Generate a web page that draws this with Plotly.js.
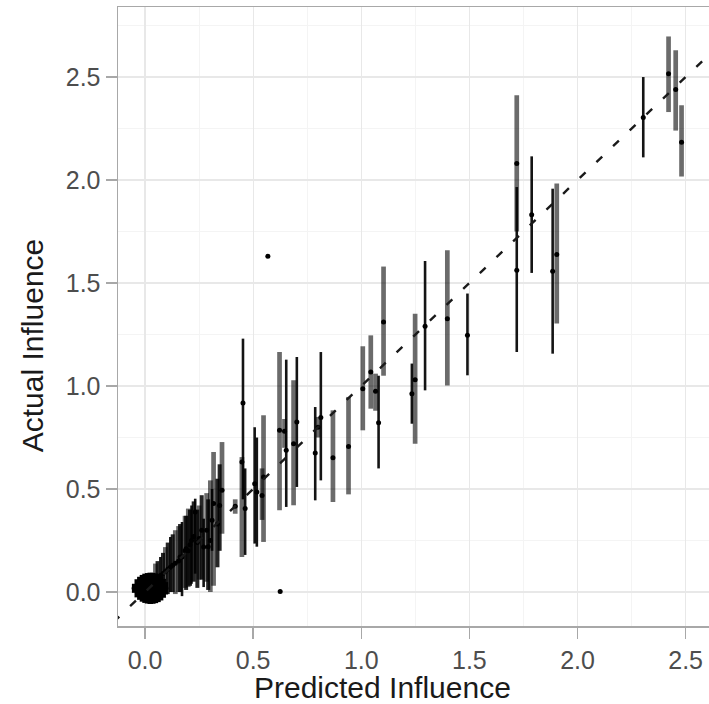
<!DOCTYPE html>
<html>
<head>
<meta charset="utf-8">
<script src="https://cdn.plot.ly/plotly-3.0.1.min.js"></script>
<style>html,body{margin:0;padding:0;background:#fff;}#chart{width:709px;height:704px;}</style>
</head>
<body>
<div id="chart"></div>
<script>
// Wide (grey, semi-transparent) error bars
const wideX  = [2.421, 2.454, 2.481, 1.719, 1.904, 1.398, 1.249, 1.103, 1.044, 1.066, 1.007, 0.941, 0.869, 0.800, 0.687, 0.622, 0.645, 0.548, 0.541, 0.448, 0.417, 0.356, 0.317, 0.302, 0.200, 0.140, 0.094, 0.048, 0.250, 0.285, 0.185, 0.155];
const wideY  = [2.516, 2.440, 2.184, 2.080, 1.639, 1.327, 1.031, 1.311, 1.068, 0.975, 0.987, 0.707, 0.652, 0.800, 0.720, 0.785, 0.780, 0.558, 0.469, 0.631, 0.416, 0.494, 0.430, 0.250, 0.200, 0.140, 0.100, 0.060, 0.260, 0.300, 0.200, 0.150];
const wideHi = [2.697, 2.630, 2.363, 2.411, 1.983, 1.659, 1.351, 1.580, 1.246, 1.060, 1.193, 0.947, 0.882, 0.850, 1.028, 1.165, 0.840, 0.858, 0.600, 0.655, 0.450, 0.728, 0.680, 0.542, 0.405, 0.300, 0.218, 0.138, 0.420, 0.480, 0.370, 0.320];
const wideLo = [2.330, 2.240, 2.017, 1.750, 1.303, 1.003, 0.720, 1.050, 0.890, 0.880, 0.785, 0.474, 0.437, 0.750, 0.421, 0.397, 0.700, 0.243, 0.350, 0.170, 0.380, 0.283, 0.030, 0.000, 0.024, -0.010, -0.010, -0.030, 0.060, 0.050, 0.020, 0.000];

// Thin (black) error bars
const thinX  = [2.304, 1.719, 1.788, 1.885, 1.491, 1.295, 1.234, 1.080, 0.813, 0.787, 0.702, 0.653, 0.507, 0.517, 0.453, 0.463, 0.310, 0.271, 0.232, 0.171, 0.117, 0.071, 0.215];
const thinY  = [2.303, 1.562, 1.832, 1.557, 1.246, 1.290, 0.963, 0.822, 0.847, 0.675, 0.825, 0.688, 0.526, 0.485, 0.917, 0.405, 0.348, 0.218, 0.388, 0.170, 0.120, 0.080, 0.250];
const thinHi = [2.500, 1.966, 2.115, 1.958, 1.449, 1.607, 1.109, 1.050, 1.165, 0.898, 1.141, 1.128, 0.800, 0.750, 1.230, 0.600, 0.500, 0.356, 0.453, 0.340, 0.267, 0.170, 0.420];
const thinLo = [2.110, 1.165, 1.549, 1.157, 1.052, 0.979, 0.817, 0.600, 0.542, 0.445, 0.510, 0.413, 0.235, 0.220, 0.450, 0.180, 0.200, 0.024, 0.089, -0.020, 0.000, -0.020, 0.040];

// Dense band of small cases (overlapping dark bars)
const bandX  = [0.058, 0.083, 0.105, 0.128, 0.162, 0.190, 0.208, 0.225, 0.242, 0.262, 0.292, 0.335, 0.345];
const bandY  = [0.070, 0.090, 0.110, 0.130, 0.170, 0.210, 0.230, 0.270, 0.240, 0.300, 0.220, 0.330, 0.420];
const bandHi = [0.150, 0.190, 0.240, 0.280, 0.330, 0.370, 0.400, 0.440, 0.400, 0.470, 0.450, 0.550, 0.620];
const bandLo = [-0.020, -0.020, -0.010, 0.000, 0.000, 0.010, 0.030, 0.050, 0.020, 0.060, 0.010, 0.120, 0.200];

// Dense cluster of near-zero cases
const clusX  = [-0.048, -0.036, -0.024, -0.012, 0.000, 0.012, 0.024, 0.036, 0.048, 0.060, 0.072, 0.084, 0.094];
const clusY  = [0.018, 0.018, 0.018, 0.018, 0.018, 0.018, 0.018, 0.018, 0.018, 0.018, 0.018, 0.018, 0.018];
const clusHi = [0.040, 0.062, 0.074, 0.083, 0.089, 0.092, 0.094, 0.093, 0.090, 0.085, 0.077, 0.064, 0.048];
const clusLo = [-0.004, -0.026, -0.038, -0.047, -0.053, -0.056, -0.058, -0.057, -0.054, -0.049, -0.041, -0.028, -0.012];

// Cases without an interval
const loneX = [0.568, 0.625];
const loneY = [1.630, 0.003];

// Reference line y = x
const diagX = [-0.3, 2.9];

const xTicks = [0, 0.5, 1, 1.5, 2, 2.5];
const xTickText = ['0.0', '0.5', '1.0', '1.5', '2.0', '2.5'];
const yTicks = [0, 0.5, 1, 1.5, 2, 2.5];
const yTickText = ['0.0', '0.5', '1.0', '1.5', '2.0', '2.5'];

function errTrace(xs, ys, his, los, color, thick, msize) {
  return {
    type: 'scatter', mode: 'markers', x: xs, y: ys,
    marker: {color: '#000', size: msize},
    error_y: {
      type: 'data', symmetric: false,
      array: his.map((h, i) => h - ys[i]),
      arrayminus: los.map((l, i) => ys[i] - l),
      color: color, thickness: thick, width: 0
    },
    hoverinfo: 'x+y', showlegend: false
  };
}

const traces = [
  errTrace(wideX, wideY, wideHi, wideLo, 'rgba(0,0,0,0.58)', 4.7, 5),
  errTrace(bandX, bandY, bandHi, bandLo, 'rgba(0,0,0,0.85)', 4, 5),
  errTrace(thinX, thinY, thinHi, thinLo, 'rgba(0,0,0,0.92)', 2.6, 5),
  errTrace(clusX, clusY, clusHi, clusLo, '#000', 5.5, 6),
  {type: 'scatter', mode: 'markers', x: loneX, y: loneY, marker: {color: '#000', size: 5}, showlegend: false},
  {type: 'scatter', mode: 'lines', x: diagX, y: diagX, line: {color: '#1a1a1a', width: 2.4, dash: '8px,15px'}, showlegend: false, hoverinfo: 'skip'}
];

const tickFont = {family: 'Liberation Sans, Arial, sans-serif', size: 25, color: '#4d4d4d'};
const titleFont = {family: 'Liberation Sans, Arial, sans-serif', size: 30, color: '#1a1a1a'};

const layout = {
  width: 709, height: 704,
  margin: {l: 118, r: 0, t: 7, b: 78, pad: 0},
  paper_bgcolor: '#fff', plot_bgcolor: '#fff',
  showlegend: false,
  xaxis: {
    range: [-0.125, 2.608], tickvals: xTicks, ticktext: xTickText,
    showgrid: true, gridcolor: '#e8e8e8', gridwidth: 1.3,
    minor: {dtick: 0.25, tick0: 0, showgrid: true, gridcolor: '#f4f4f4', gridwidth: 1, ticks: ''},
    zeroline: false, showline: true, linecolor: '#a8a8a8', linewidth: 1.5, mirror: true,
    ticks: 'outside', ticklen: 11, tickwidth: 1.5, tickcolor: '#a8a8a8',
    tickfont: tickFont, title: {text: ''}
  },
  yaxis: {
    range: [-0.165, 2.84], tickvals: yTicks, ticktext: yTickText,
    showgrid: true, gridcolor: '#e8e8e8', gridwidth: 1.3,
    minor: {dtick: 0.25, tick0: 0, showgrid: true, gridcolor: '#f4f4f4', gridwidth: 1, ticks: ''},
    zeroline: false, showline: true, linecolor: '#a8a8a8', linewidth: 1.5, mirror: false,
    ticks: 'outside', ticklen: 11, tickwidth: 1.5, tickcolor: '#a8a8a8',
    tickfont: tickFont, title: {text: ''}
  },
  annotations: [
    {text: 'Predicted Influence', xref: 'paper', yref: 'paper', x: 0.448, y: -0.1,
     xanchor: 'center', yanchor: 'middle', showarrow: false, font: titleFont},
    {text: 'Actual Influence', xref: 'paper', yref: 'paper', x: -0.1455, y: 0.452,
     xanchor: 'center', yanchor: 'middle', textangle: -90, showarrow: false, font: titleFont}
  ]
};

Plotly.newPlot('chart', traces, layout, {displayModeBar: false, staticPlot: true});
</script>
</body>
</html>
